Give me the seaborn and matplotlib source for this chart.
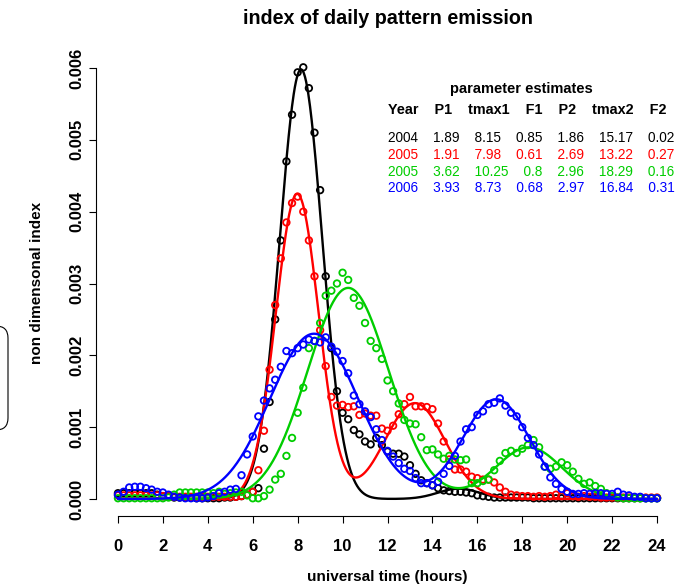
import numpy as np
import pandas as pd
import matplotlib
matplotlib.use("Agg")
import matplotlib.pyplot as plt
from matplotlib.patches import FancyBboxPatch
import seaborn as sns

# ---------------- data ----------------
hours = np.arange(97) * 0.25          # observation times (h)

# observed index values, in units of 1e-3
obs_2004 = [0.08, 0.08, 0.08, 0.08, 0.08, 0.08, 0.08, 0.06,
            0.04, 0.03, 0.02, 0.02, 0.02, 0.02, 0.01, 0.01,
            0.01, 0.01, 0.01, 0.02, 0.02, 0.03, 0.04, 0.06,
            0.10, 0.15, 0.70, 1.35, 2.50, 3.60, 4.70, 5.35,
            5.94, 6.01, 5.72, 5.10, 4.30, 3.10, 2.10, 1.50,
            1.20, 1.11, 0.96, 0.90, 0.80, 0.76, 0.85, 0.75,
            0.66, 0.63, 0.63, 0.59, 0.47, 0.35, 0.26, 0.22,
            0.19, 0.15, 0.12, 0.11, 0.10, 0.10, 0.09, 0.08,
            0.05, 0.04, 0.03, 0.02, 0.02, 0.02, 0.02, 0.02,
            0.02, 0.02, 0.01, 0.01, 0.01, 0.01, 0.01, 0.01,
            0.01, 0.01, 0.01, 0.01, 0.01, 0.01, 0.01, 0.01,
            0.01, 0.01, 0.01, 0.01, 0.01, 0.01, 0.01, 0.01,
            0.01]
obs_2005a = [0.05, 0.05, 0.05, 0.05, 0.05, 0.05, 0.05, 0.05,
             0.04, 0.04, 0.03, 0.03, 0.03, 0.03, 0.03, 0.03,
             0.03, 0.03, 0.03, 0.03, 0.03, 0.03, 0.04, 0.06,
             0.10, 0.40, 0.95, 1.80, 2.70, 3.35, 3.85, 4.12,
             4.21, 4.00, 3.60, 3.10, 2.35, 1.85, 1.42, 1.30,
             1.31, 1.28, 1.29, 1.17, 1.19, 1.16, 1.16, 0.98,
             0.95, 1.02, 1.18, 1.32, 1.42, 1.29, 1.29, 1.28,
             1.25, 1.05, 0.80, 0.55, 0.41, 0.41, 0.38, 0.31,
             0.29, 0.27, 0.27, 0.23, 0.16, 0.10, 0.06, 0.05,
             0.04, 0.04, 0.03, 0.04, 0.03, 0.04, 0.06, 0.04,
             0.08, 0.04, 0.03, 0.04, 0.03, 0.03, 0.02, 0.02,
             0.02, 0.02, 0.02, 0.02, 0.02, 0.02, 0.02, 0.02,
             0.02]
obs_2005b = [0.01, 0.01, 0.01, 0.01, 0.01, 0.01, 0.01, 0.01,
             0.01, 0.02, 0.06, 0.09, 0.09, 0.09, 0.09, 0.09,
             0.09, 0.08, 0.10, 0.07, 0.08, 0.09, 0.10, 0.05,
             0.01, 0.01, 0.04, 0.13, 0.27, 0.35, 0.60, 0.85,
             1.20, 1.55, 2.10, 2.20, 2.45, 2.83, 2.90, 3.00,
             3.15, 3.05, 2.80, 2.69, 2.45, 2.20, 2.10, 1.95,
             1.65, 1.50, 1.33, 1.10, 1.05, 1.04, 0.86, 0.68,
             0.69, 0.62, 0.56, 0.60, 0.55, 0.54, 0.55, 0.22,
             0.22, 0.25, 0.27, 0.40, 0.53, 0.64, 0.67, 0.64,
             0.70, 0.75, 0.82, 0.72, 0.45, 0.42, 0.45, 0.51,
             0.47, 0.38, 0.28, 0.21, 0.23, 0.18, 0.14, 0.08,
             0.04, 0.02, 0.01, 0.01, 0.01, 0.01, 0.01, 0.01,
             0.01]
obs_2006 = [0.06, 0.10, 0.16, 0.17, 0.17, 0.15, 0.13, 0.10,
            0.09, 0.06, 0.03, 0.02, 0.01, 0.01, 0.01, 0.01,
            0.02, 0.04, 0.08, 0.10, 0.13, 0.14, 0.33, 0.62,
            0.87, 1.15, 1.37, 1.54, 1.66, 1.84, 2.06, 2.03,
            2.10, 2.15, 2.22, 2.20, 2.18, 2.25, 2.12, 2.05,
            1.92, 1.75, 1.44, 1.32, 1.22, 1.14, 0.97, 0.82,
            0.67, 0.59, 0.50, 0.42, 0.39, 0.29, 0.22, 0.22,
            0.19, 0.24, 0.35, 0.46, 0.60, 0.80, 0.97, 1.00,
            1.17, 1.22, 1.32, 1.34, 1.40, 1.30, 1.20, 1.15,
            1.00, 0.85, 0.75, 0.62, 0.45, 0.30, 0.21, 0.14,
            0.10, 0.07, 0.07, 0.08, 0.07, 0.08, 0.08, 0.07,
            0.07, 0.10, 0.06, 0.05, 0.03, 0.03, 0.01, 0.01,
            0.01]

# fitted parameter estimates (as printed on the chart)
years = ["2004", "2005", "2005", "2006"]
P1 = [1.89, 1.91, 3.62, 3.93]
tmax1 = [8.15, 7.98, 10.25, 8.73]
F1 = [0.85, 0.61, 0.8, 0.68]
P2 = [1.86, 2.69, 2.96, 2.97]
tmax2 = [15.17, 13.22, 18.29, 16.84]
F2 = [0.02, 0.27, 0.16, 0.31]

colors = ["#000000", "#FF0000", "#00CD00", "#0000FF"]
observed = [obs_2004, obs_2005a, obs_2005b, obs_2006]

x_ticks = list(range(0, 25, 2))
y_ticks = [0.000, 0.001, 0.002, 0.003, 0.004, 0.005, 0.006]
y_tick_labels = ["0.000", "0.001", "0.002", "0.003", "0.004", "0.005", "0.006"]


def model(t, p1, m1, f1, p2, m2, f2):
    # two-peak Gaussian model, per-minute normalisation, sigma = P/2
    s1, s2 = p1 / 2.0, p2 / 2.0
    g1 = f1 / (60 * s1 * np.sqrt(2 * np.pi)) * np.exp(-0.5 * ((t - m1) / s1) ** 2)
    g2 = f2 / (60 * s2 * np.sqrt(2 * np.pi)) * np.exp(-0.5 * ((t - m2) / s2) ** 2)
    return g1 + g2


# ---------------- figure ----------------
sns.set_theme(style="white")
plt.rcParams["font.family"] = ["Liberation Sans", "DejaVu Sans"]
plt.rcParams["text.color"] = "black"

W, H = 682, 586
fig = plt.figure(figsize=(W / 100, H / 100), dpi=100)
ax = fig.add_axes([96.4 / W, 1 - 516.2 / H, (678.6 - 96.4) / W, (516.2 - 50.8) / H])

t_fine = np.linspace(0, 24, 961)
for i in range(4):
    pts = pd.DataFrame({"hour": hours, "index": np.array(observed[i]) * 1e-3})
    sns.scatterplot(data=pts, x="hour", y="index", ax=ax, s=22, color=colors[i],
                    facecolor="none", edgecolor=colors[i], linewidth=1.3,
                    legend=False, zorder=2 + i)
    curve = pd.DataFrame({"hour": t_fine,
                          "index": model(t_fine, P1[i], tmax1[i], F1[i], P2[i], tmax2[i], F2[i])})
    sns.lineplot(data=curve, x="hour", y="index", ax=ax, color=colors[i], lw=1.7,
                 legend=False, zorder=2.5 + i)

ax.set_xlim(-0.96, 24.96)
ax.set_ylim(-0.00024, 0.00624)
ax.set_xlabel("")
ax.set_ylabel("")
for s in ["top", "right"]:
    ax.spines[s].set_visible(False)
for s in ["left", "bottom"]:
    ax.spines[s].set_color("black")
    ax.spines[s].set_linewidth(0.8)
ax.spines["bottom"].set_bounds(0, 24)
ax.spines["left"].set_bounds(0, 0.006)
ax.set_xticks(x_ticks)
ax.set_xticklabels([str(v) for v in x_ticks], fontweight="bold")
ax.set_yticks(y_ticks)
ax.set_yticklabels(y_tick_labels, fontweight="bold", rotation=90, va="center")
ax.tick_params(axis="both", which="major", bottom=True, left=True, direction="out",
               length=5, width=0.8, color="black", labelsize=12, labelcolor="black")
ax.tick_params(axis="x", pad=11.5)
ax.tick_params(axis="y", pad=3.5)
ax.set_facecolor("white")

fig.text(387.5 / W, 1 - 18 / H, "index of daily pattern emission", ha="center", va="center",
         fontsize=14.2, fontweight="bold", color="black")
fig.text(387.5 / W, 1 - 577 / H, "universal time (hours)", ha="center", va="center",
         fontsize=11, fontweight="bold", color="black")
fig.text(37 / W, 1 - 283 / H, "non dimensonal index", ha="center", va="center",
         rotation=90, fontsize=11, fontweight="bold", color="black")

# parameter table
fig.text(521 / W, 1 - 89 / H, "parameter estimates", ha="center", va="center",
         fontsize=10.5, fontweight="bold", color="black")
fig.text(388 / W, 1 - 110 / H, "    ".join(["Year", "P1", "tmax1", "F1", "P2", "tmax2", "F2"]),
         ha="left", va="center", fontsize=10.4, fontweight="bold", color="black")
row_y = [138.3, 155, 171.7, 188.3]
for i in range(4):
    row = "    ".join([years[i], str(P1[i]), str(tmax1[i]), str(F1[i]),
                       str(P2[i]), str(tmax2[i]), str(F2[i])])
    fig.text(388 / W, 1 - row_y[i] / H, row, ha="left", va="center",
             fontsize=9.8, color=colors[i])

# partial rounded box at the left edge
box = FancyBboxPatch((-60, H - 430), 68, 104, boxstyle="round,pad=0,rounding_size=12",
                     transform=None, fill=False, ec="black", lw=0.8)
fig.add_artist(box)

fig.savefig("out.png", dpi=100)
